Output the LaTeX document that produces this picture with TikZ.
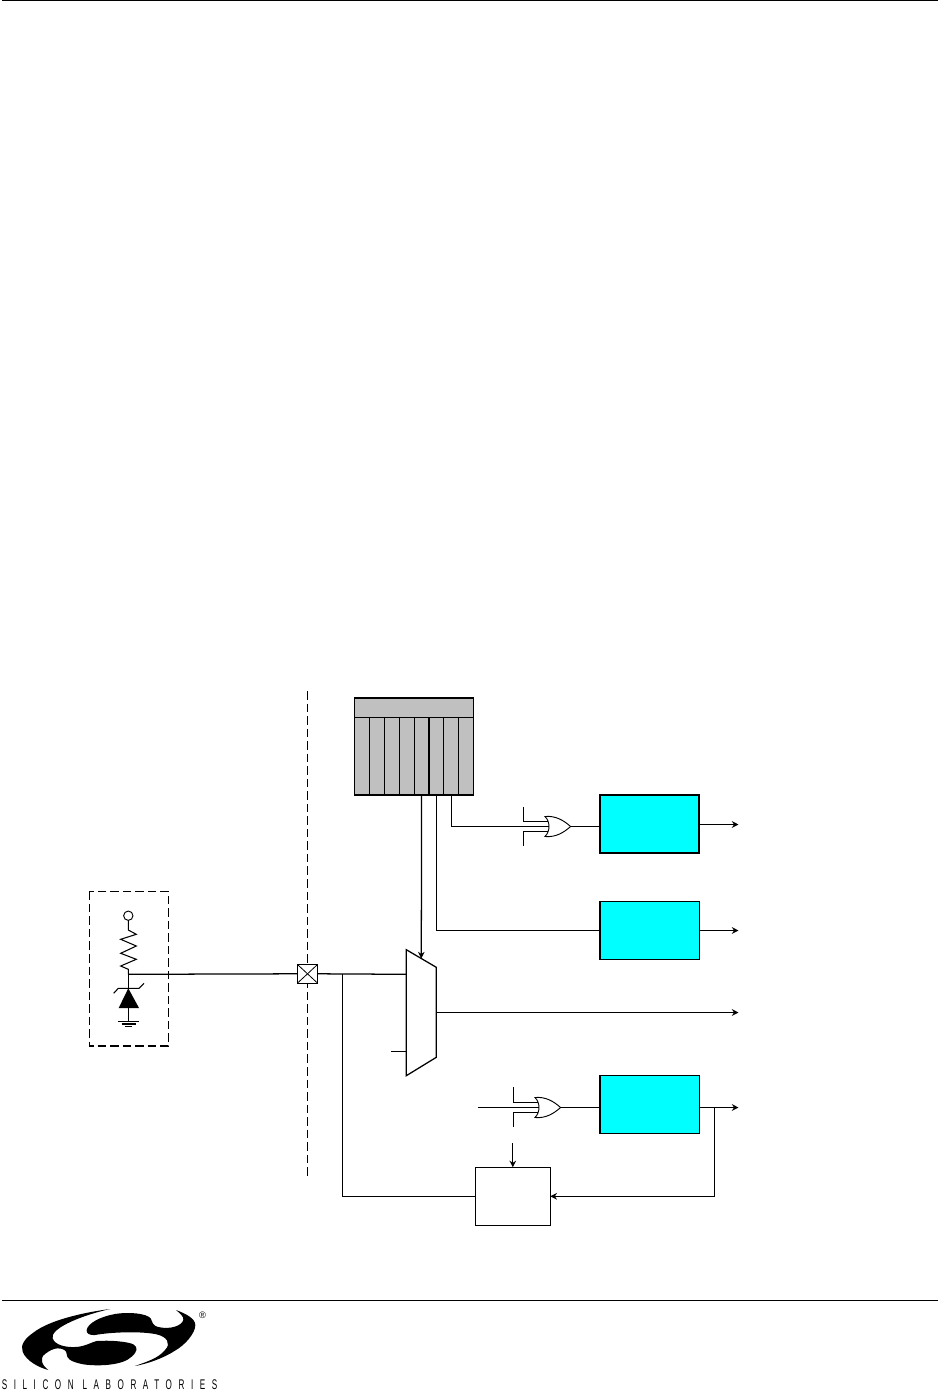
\documentclass[tikz,border=0pt]{standalone}
\usepackage{fontspec}
\setmainfont{Liberation Sans}
\usetikzlibrary{positioning, arrows.meta}
\definecolor{boxcyan}{RGB}{0,255,255}
\definecolor{reggray}{RGB}{192,192,192}

\begin{document}
\begin{tikzpicture}[
    x=0.75pt, y=-0.75pt,
    wire/.style={line width=0.95pt},
    ptr/.style={
        -{Stealth[length=5pt,width=5pt]},
        line width=0.95pt
    },
    dashline/.style={
        line width=0.9pt,
        dash pattern=on 6.4pt off 3pt
    },
    regtitle/.style={
        draw,
        fill=reggray,
        line width=0.8pt,
        outer sep=0pt,
        minimum width=89.25pt,
        minimum height=14.5pt
    },
    regbit/.style={
        draw,
        fill=reggray,
        line width=0.8pt,
        outer sep=0pt,
        inner sep=0pt,
        minimum width=11.16pt,
        minimum height=58.5pt
    },
    timerbox/.style={
        draw,
        fill=boxcyan,
        line width=1pt,
        outer sep=0pt,
        minimum width=74.5pt,
        minimum height=43.3pt
    },
    ctrlbox/.style={
        draw,
        line width=0.95pt,
        outer sep=0pt,
        minimum width=56.25pt,
        minimum height=43.5pt
    },
    orsym/.pic={
        \draw[line width=0.7pt] (-12.8,-10) .. controls (-2,-11) and (6,-6) .. (12.8,0)
            .. controls (6,6) and (-2,11) .. (-12.8,10)
            .. controls (-7.5,5) and (-7.5,-5) .. (-12.8,-10) -- cycle;
        \coordinate (-in1) at (-9.6,-5);
        \coordinate (-in2) at (-9.2,0);
        \coordinate (-in3) at (-9.6,5);
        \coordinate (-out) at (12.8,0);
    }
]
    \useasboundingbox (0,0) rectangle (938,1391);

    % Page rules
    \coordinate (topl) at (2,0.8);
    \coordinate (topr) at (938,0.8);
    \coordinate (botl) at (2,1300.3);
    \coordinate (botr) at (938,1300.3);
    \draw[line width=1pt] (topl) -- (topr);
    \draw[wire] (botl) -- (botr);

    % Register
    \node[regtitle, anchor=north west] (regtop) at (354.6,697.7) {};
    \node[regbit, anchor=north west] (bit1) at (regtop.south west) {};
    \foreach \i [count=\j] in {2,...,8}
        \node[regbit, right=0pt of bit\j] (bit\i) {};
    \draw[line width=1.2pt] (regtop.north west) rectangle (bit8.south east);

    % Boxes
    \node[timerbox, line width=1.5pt] (tmra) at (649.6,823.9) {};
    \node[timerbox, below=36.75pt of tmra] (tmrb) {};
    \node[timerbox, below=87.2pt of tmrb] (tmrc) {};
    \node[ctrlbox] (ctrl) at (512.8,1196.3) {};

    % Gates
    \pic (ora) at (557.8,826.5) {orsym};
    \pic (orb) at (547.8,1107.5) {orsym};

    % Isolation line and pad
    \coordinate (isotop) at (307.3,691);
    \coordinate (isobot) at (307.3,1178);
    \draw[dashline] (isotop) -- (isobot);
    \node[draw, fill=white, wire, outer sep=0pt, minimum width=15.3pt, minimum height=14.2pt] (pad) at (307.5,973.8) {};
    \draw[line width=0.6pt] (pad.north west) -- (pad.south east);
    \draw[line width=0.6pt] (pad.south west) -- (pad.north east);

    % Mux
    \coordinate (muxa) at (406.3,949.7);
    \coordinate (muxb) at (436.3,967.3);
    \coordinate (muxc) at (436.3,1057.3);
    \coordinate (muxd) at (406.3,1075.7);
    \coordinate (muxsel) at (421.3,958.5);
    \coordinate (muxin) at (406.3,974.3);
    \coordinate (muxaux) at (406.3,1051.5);
    \coordinate (auxin) at (391.3,1051.5);
    \coordinate (muxout) at (436.3,1012.5);
    \draw[wire] (muxa) -- (muxb) -- (muxc) -- (muxd) -- cycle;

    % Output ends
    \coordinate (outa) at (738.5,824.5);
    \coordinate (outb) at (738.5,930.5);
    \coordinate (outm) at (738.5,1012.5);
    \coordinate (outc) at (738.5,1107.5);

    % Register to mux and boxes
    \draw[ptr] (bit5.south) -- (muxsel);
    \draw[wire] (bit6.south) |- (tmrb.west |- outb);
    \draw[wire] (bit7.south) |- (ora-in2);
    \draw[wire] (ora-out) -- (ora-out -| tmra.west);

    % Gate inputs
    \coordinate (stuba) at (523.3,806.7);
    \coordinate (stubb) at (523.3,845.7);
    \coordinate (stubc) at (513.3,1087.3);
    \coordinate (stubd) at (513.3,1126.7);
    \coordinate (orbin) at (478,1107.5);
    \coordinate (ctrlin) at (512.8,1143.3);
    \draw[wire] (stuba) |- (ora-in1);
    \draw[wire] (stubb) |- (ora-in3);
    \draw[wire] (stubc) |- (orb-in1);
    \draw[wire] (stubd) |- (orb-in3);
    \draw[wire] (orbin) -- (orb-in2);
    \draw[wire] (orb-out) -- (orb-out -| tmrc.west);
    \draw[ptr] (ctrlin) -- (ctrl.north);

    % Outputs
    \draw[ptr] (tmra.east |- outa) -- (outa);
    \draw[ptr] (tmrb.east |- outb) -- (outb);
    \draw[ptr] (muxout) -- (outm);
    \draw[ptr] (orb-out -| tmrc.east) -- (outc);

    % Feedback
    \coordinate (fbk) at (714.5,1107.5);
    \coordinate (branch) at (342.3,974.3);
    \draw[ptr] (fbk) |- (ctrl.east);
    \draw[wire] (ctrl.west) -| (branch);

    % Pad wiring
    \draw[wire] (pad.east) -- (muxin);
    \draw[wire] (auxin) -- (muxaux);

    % Dashed cell
    \coordinate (cella) at (89.3,891.3);
    \coordinate (cellb) at (168.7,1046);
    \draw[dashline] (cella) rectangle (cellb);

    % Supply, resistor
    \node[draw, circle, line width=0.7pt, inner sep=0pt, minimum size=7pt, outer sep=0pt] (vdd) at (128.3,915.7) {};
    \coordinate (rjoin) at (128.3,974.3);
    \draw[line width=0.8pt] (vdd.south) -- (128.3,930) -- (136.3,934.3) -- (120.7,939.3) -- (136.3,946)
        -- (120.7,953.3) -- (136.3,959.3) -- (120.7,966) -- (128.3,969.3) -- (rjoin);
    \draw[wire] (rjoin) -- (pad.west);

    % Zener and ground
    \coordinate (zenk) at (128.3,988.3);
    \coordinate (zena) at (128.3,1008);
    \coordinate (gnd) at (128.3,1021.3);
    \draw[wire] (rjoin) -- (zenk);
    \fill (zenk) -- (139,1008) -- (118.7,1008) -- cycle;
    \draw[line width=0.8pt] (113.7,993.3) -- (118.3,988.3) -- (139,988.3) -- (144,983.3);
    \draw[wire] (zena) -- (gnd);
    \draw[line width=0.8pt] (118.3,1021.3) -- (139,1021.3);
    \draw[line width=0.8pt] (121.7,1024) -- (135.7,1024);
    \draw[line width=0.8pt] (125,1026.7) -- (132.3,1026.7);

    % Logo
    \begin{scope}[shift={(0,1290)}, x=0.25pt, y=-0.25pt]
        \fill (330,57) .. controls (245,68) and (145,92) .. (100,128)
            .. controls (75,145) and (60,165) .. (68,185)
            .. controls (78,212) and (115,232) .. (145,240)
            .. controls (125,225) and (118,205) .. (135,192)
            .. controls (148,182) and (160,176) .. (172,175)
            .. controls (190,175) and (200,182) .. (200,192)
            .. controls (200,205) and (210,215) .. (250,223)
            .. controls (300,230) and (370,225) .. (395,200)
            .. controls (412,185) and (415,172) .. (400,163)
            .. controls (385,155) and (330,150) .. (290,153)
            .. controls (270,158) and (255,170) .. (225,171)
            .. controls (195,172) and (165,165) .. (158,145)
            .. controls (150,118) and (230,80) .. (330,57) -- cycle;
        \fill (528,60) .. controls (555,70) and (586,85) .. (586,105)
            .. controls (586,130) and (555,165) .. (525,182)
            .. controls (490,205) and (440,222) .. (405,228)
            .. controls (440,215) and (475,205) .. (495,180)
            .. controls (515,160) and (500,140) .. (470,133)
            .. controls (430,124) and (340,125) .. (285,135)
            .. controls (270,137) and (258,130) .. (260,120)
            .. controls (263,100) and (300,80) .. (345,72)
            .. controls (385,65) and (440,70) .. (452,85)
            .. controls (458,95) and (455,108) .. (480,112)
            .. controls (510,118) and (545,108) .. (550,90)
            .. controls (552,80) and (540,70) .. (528,60) -- cycle;
    \end{scope}
    \node[inner sep=0pt, font=\fontsize{7pt}{8pt}\selectfont] (regmark) at (202.5,1315) {®};
    \node[inner sep=0pt, anchor=base west] (brand) at (1.5,1389.5) {\scalebox{0.58}[1]{\fontsize{10.5pt}{12pt}\selectfont\addfontfeature{LetterSpace=81}SILICON LABORATORIES}};
\end{tikzpicture}
\end{document}
